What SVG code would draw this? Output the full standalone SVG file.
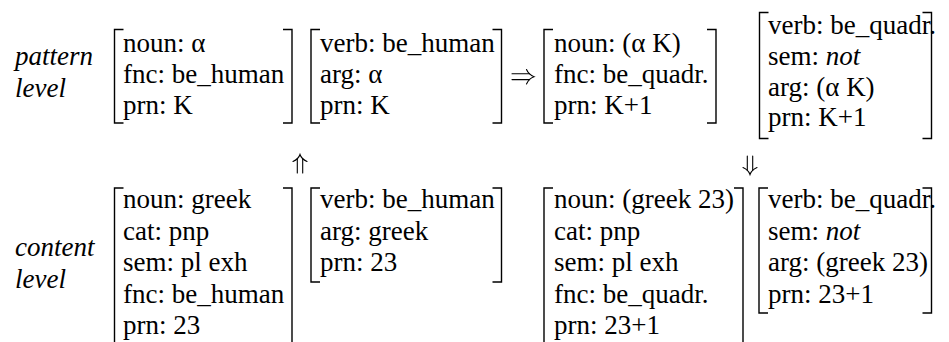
<svg xmlns="http://www.w3.org/2000/svg" width="949" height="342" viewBox="0 0 949 342">
  <style>
    text { font-family: 'Liberation Serif', 'Times New Roman', serif; font-size: 27px; fill: #000; }
    .it { font-style: italic; }
    .br { fill: none; stroke: #000; stroke-width: 1.4; }
    .arr { fill: none; stroke: #000; stroke-width: 1.1; stroke-linecap: round; }
  </style>

  <!-- level labels -->
  <g id="label-pattern">
    <text class="it" x="15" y="65">pattern</text>
    <text class="it" x="15" y="97">level</text>
  </g>
  <g id="label-content">
    <text class="it" x="15" y="256">content</text>
    <text class="it" x="15" y="288">level</text>
  </g>

  <!-- pattern level: noun proplet -->
  <g id="p-noun">
    <path class="br" d="M123.5,29.5 H114.5 V123 H123.5"/>
    <path class="br" d="M283,29.5 H292 V123 H283"/>
    <text x="123" y="52">noun: α</text>
    <text x="123" y="83">fnc: be_human</text>
    <text x="123" y="114">prn: K</text>
  </g>

  <!-- pattern level: verb proplet -->
  <g id="p-verb">
    <path class="br" d="M320,29.5 H311 V123 H320"/>
    <path class="br" d="M492.5,29.5 H501.5 V123 H492.5"/>
    <text x="320" y="52">verb: be_human</text>
    <text x="320" y="83">arg: α</text>
    <text x="320" y="114">prn: K</text>
  </g>

  <!-- pattern level: inferred noun proplet -->
  <g id="p-noun2">
    <path class="br" d="M553,29.5 H544 V123 H553"/>
    <path class="br" d="M707,29.5 H716 V123 H707"/>
    <text x="554" y="52">noun: (α K)</text>
    <text x="554" y="83">fnc: be_quadr.</text>
    <text x="554" y="114">prn: K+1</text>
  </g>

  <!-- pattern level: inferred verb proplet -->
  <g id="p-verb2">
    <path class="br" d="M768.5,12.5 H759.5 V138.5 H768.5"/>
    <path class="br" d="M922.5,12.5 H931.5 V138.5 H922.5"/>
    <text x="768" y="34">verb: be_quadr.</text>
    <text x="768" y="65">sem: <tspan class="it">not</tspan></text>
    <text x="768" y="95.5">arg: (α K)</text>
    <text x="768" y="126">prn: K+1</text>
  </g>

  <!-- content level: noun proplet (runs past the bottom edge) -->
  <g id="c-noun">
    <path class="br" d="M123.5,188 H114.5 V350"/>
    <path class="br" d="M283,188 H292 V350"/>
    <text x="123" y="208">noun: greek</text>
    <text x="123" y="239.5">cat: pnp</text>
    <text x="123" y="271">sem: pl exh</text>
    <text x="123" y="302.5">fnc: be_human</text>
    <text x="123" y="334">prn: 23</text>
  </g>

  <!-- content level: verb proplet -->
  <g id="c-verb">
    <path class="br" d="M320,188 H311 V282 H320"/>
    <path class="br" d="M492.5,188 H501.5 V282 H492.5"/>
    <text x="320" y="208">verb: be_human</text>
    <text x="320" y="239.5">arg: greek</text>
    <text x="320" y="271">prn: 23</text>
  </g>

  <!-- content level: inferred noun proplet (runs past the bottom edge) -->
  <g id="c-noun2">
    <path class="br" d="M553,188 H544 V350"/>
    <path class="br" d="M734,188 H743 V350"/>
    <text x="554" y="208">noun: (greek 23)</text>
    <text x="554" y="239.5">cat: pnp</text>
    <text x="554" y="271">sem: pl exh</text>
    <text x="554" y="302.5">fnc: be_quadr.</text>
    <text x="554" y="334">prn: 23+1</text>
  </g>

  <!-- content level: inferred verb proplet -->
  <g id="c-verb2">
    <path class="br" d="M768,188 H759 V313 H768"/>
    <path class="br" d="M922.5,188 H931.5 V313 H922.5"/>
    <text x="768" y="208">verb: be_quadr.</text>
    <text x="768" y="239.5">sem: <tspan class="it">not</tspan></text>
    <text x="768" y="271">arg: (greek 23)</text>
    <text x="768" y="302.5">prn: 23+1</text>
  </g>

  <!-- double arrows between proplets and levels -->
  <g id="connectors">
    <!-- rightward: pattern premises to conclusion -->
    <path class="arr" d="M512,73.8 H529.5 M512,79.6 H529.5"/>
    <path class="arr" d="M526.5,69.5 Q529,75 534,76.7 Q529,78.4 526.5,84"/>
    <!-- upward: content matched by pattern -->
    <path class="arr" d="M297.3,173 V158.5 M302.7,173 V158.5"/>
    <path class="arr" d="M293,161.5 Q298.5,159 300,154.5 Q301.5,159 307,161.5"/>
    <!-- downward: conclusion instantiated at content level -->
    <path class="arr" d="M747.3,156 V170.5 M752.7,156 V170.5"/>
    <path class="arr" d="M743,167.5 Q748.5,170 750,174.5 Q751.5,170 757,167.5"/>
  </g>
</svg>
